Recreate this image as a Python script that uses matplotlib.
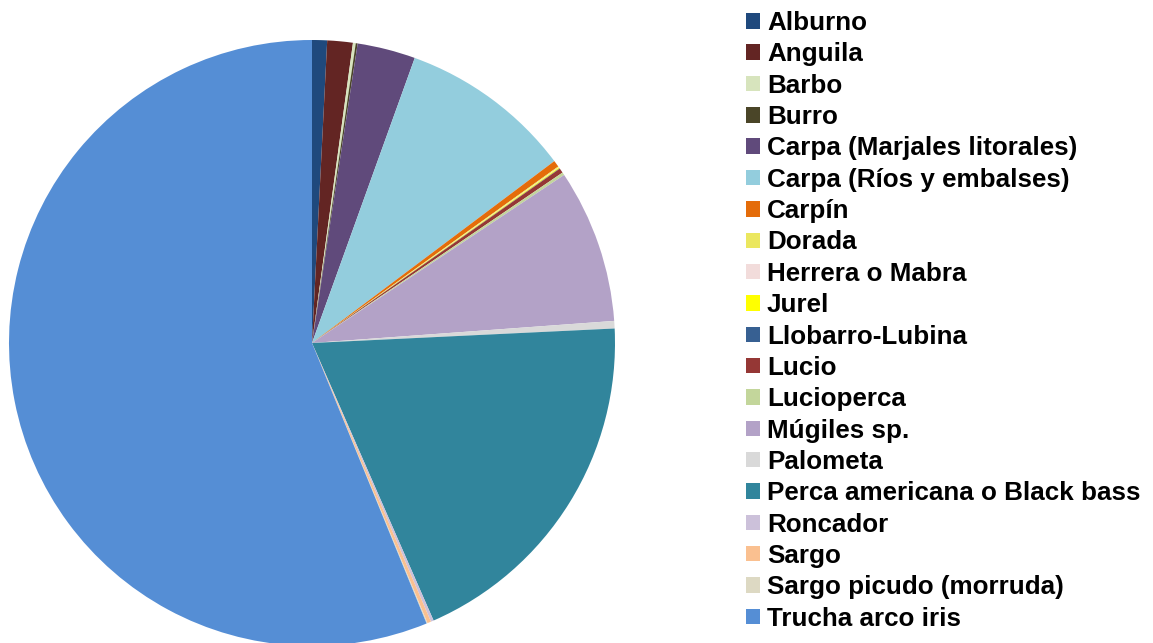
import matplotlib
matplotlib.use("Agg")
from matplotlib import pyplot as plt
from matplotlib.patches import Patch

especies = ["Alburno", "Anguila", "Barbo", "Burro", "Carpa (Marjales litorales)",
            "Carpa (Ríos y embalses)", "Carpín", "Dorada", "Herrera o Mabra", "Jurel",
            "Llobarro-Lubina", "Lucio", "Lucioperca", "Múgiles sp.", "Palometa",
            "Perca americana o Black bass", "Roncador", "Sargo",
            "Sargo picudo (morruda)", "Trucha arco iris"]

# porcentajes estimados a partir del gráfico
valores = [0.8, 1.36, 0.15, 0.1, 3.1,
           9.25, 0.35, 0.05, 0.02, 0.05,
           0.02, 0.25, 0.15, 8.2, 0.4,
           19.2, 0.15, 0.2,
           0.05, 56.2]

colores = ["#1F497D", "#632523", "#D7E4BD", "#4A4528", "#604A7B",
           "#93CDDD", "#E46C0A", "#EBE75F", "#F2DCDB", "#FFFF00",
           "#376092", "#953735", "#C3D69B", "#B3A2C7", "#D9D9D9",
           "#31859C", "#CCC1DA", "#FAC090", "#DDD9C3", "#558ED5"]

plt.rcParams['font.family'] = ['Liberation Sans', 'DejaVu Sans']

fig = plt.figure(figsize=(11.53, 6.43), dpi=100)
ax = fig.add_axes([9 / 1153, -3 / 643, 606 / 1153, 606 / 643])
ax.pie(valores, colors=colores, startangle=90, counterclock=False,
       radius=1, wedgeprops=dict(linewidth=0))
ax.set_xlim(-1, 1)
ax.set_ylim(-1, 1)
ax.set_aspect('equal')
ax.axis('off')

handles = [Patch(facecolor=c, edgecolor='none') for c in colores]
fig.legend(handles, especies, loc='upper left',
           bbox_to_anchor=(746 / 1153, 1 - 11 / 643),
           frameon=False, borderpad=0, borderaxespad=0,
           handlelength=0.54, handleheight=0.54, handletextpad=0.27,
           labelspacing=0.283,
           prop=dict(family='Liberation Sans', weight='bold', size=18.7))

fig.savefig("out.png", dpi=100)
